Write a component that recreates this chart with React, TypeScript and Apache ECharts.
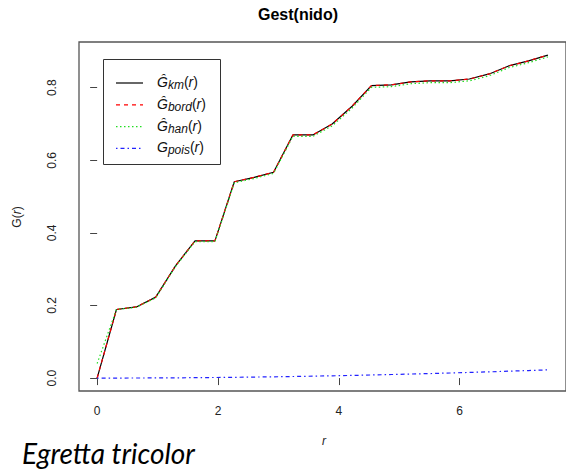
import React, { useEffect, useRef } from "react";
import * as echarts from "echarts";

// distance grid r (shared by all estimates)
const rValues = [
  0, 0.32, 0.65, 0.97, 1.3, 1.62, 1.95, 2.27, 2.6, 2.92, 3.24, 3.57,
  3.89, 4.22, 4.54, 4.87, 5.19, 5.51, 5.84, 6.16, 6.49, 6.81, 7.14, 7.46,
];

// Kaplan-Meier estimate
const gKm = [
  0, 0.189, 0.196, 0.223, 0.31, 0.378, 0.378, 0.541, 0.553, 0.567, 0.67, 0.67,
  0.7, 0.749, 0.806, 0.808, 0.816, 0.819, 0.819, 0.824, 0.838, 0.86, 0.874, 0.89,
];

// border-corrected estimate
const gBord = [
  0, 0.189, 0.196, 0.223, 0.31, 0.378, 0.378, 0.541, 0.553, 0.567, 0.67, 0.67,
  0.7, 0.749, 0.806, 0.808, 0.816, 0.819, 0.819, 0.824, 0.838, 0.86, 0.874, 0.89,
];

// Hanisch estimate
const gHan = [
  0.04, 0.189, 0.195, 0.221, 0.308, 0.376, 0.376, 0.538, 0.55, 0.564, 0.666, 0.666,
  0.695, 0.744, 0.801, 0.803, 0.811, 0.814, 0.814, 0.819, 0.833, 0.855, 0.869, 0.885,
];

// theoretical Poisson curve
const gPois = [
  0, 0.0001, 0.0002, 0.0004, 0.0007, 0.0011, 0.0016, 0.0021, 0.0028, 0.0035, 0.0043, 0.0053,
  0.0063, 0.0073, 0.0085, 0.0098, 0.0111, 0.0125, 0.014, 0.0156, 0.0172, 0.019, 0.0208, 0.0227,
];

const xTicks = [0, 2, 4, 6];
const yTicks = [0, 0.2, 0.4, 0.6, 0.8];

const seriesNames = ["km", "bord", "han", "pois"];

const FONT = "Liberation Sans";

const STYLES: Record<string, { color: string; dash: number[] | null }> = {
  km: { color: "#000000", dash: null },
  bord: { color: "#ff0000", dash: [4, 4] },
  han: { color: "#22dd22", dash: [1.5, 2.5] },
  pois: { color: "#2222ff", dash: [1.5, 3, 4, 3] },
};

const pairs = (ys: number[]) => rValues.map((r, i) => [r, ys[i]]);

export default function App() {
  const ref = useRef<HTMLDivElement>(null);

  useEffect(() => {
    if (!ref.current) return;
    const chart = echarts.init(ref.current, undefined, { renderer: "svg" });

    const labelText = (name: string) => {
      const g = name === "pois" ? "G" : "Ĝ";
      return `{g|${g}}{s|${name}}{p|(}{g|r}{p|)}`;
    };

    const rich = {
      g: {
        fontFamily: FONT,
        fontStyle: "italic",
        fontSize: 14,
        lineHeight: 16,
        verticalAlign: "top",
        fill: "#111",
      },
      s: {
        fontFamily: FONT,
        fontStyle: "italic",
        fontSize: 12,
        lineHeight: 12,
        verticalAlign: "bottom",
        fill: "#111",
      },
      p: {
        fontFamily: FONT,
        fontSize: 14,
        lineHeight: 16,
        verticalAlign: "top",
        fill: "#111",
      },
    };

    // legend box drawn by hand so that line samples keep their dash patterns
    const legendTop = 83;
    const legendStep = 21.8;
    const legendItems: any[] = [
      {
        type: "rect",
        shape: { x: 103.5, y: 59.5, width: 117, height: 105 },
        style: { fill: "#fff", stroke: "#333", lineWidth: 1 },
        z: 10,
      },
    ];
    seriesNames.forEach((name, i) => {
      const y = legendTop + i * legendStep;
      const st = STYLES[name];
      legendItems.push({
        type: "line",
        shape: { x1: 116, y1: y, x2: 143, y2: y },
        style: {
          stroke: st.color,
          lineWidth: 1.2,
          lineDash: st.dash ?? undefined,
        },
        z: 11,
      });
      legendItems.push({
        type: "text",
        x: 157,
        y,
        style: {
          text: labelText(name),
          align: "left",
          verticalAlign: "middle",
          rich,
        },
        z: 11,
      });
    });

    const lineSeries = (name: string, ys: number[], z: number) => ({
      name,
      type: "line",
      data: pairs(ys),
      symbol: "none",
      showSymbol: false,
      z,
      lineStyle: {
        color: STYLES[name].color,
        width: 1.2,
        type: STYLES[name].dash ?? "solid",
      },
    });

    chart.setOption({
      animation: false,
      backgroundColor: "#ffffff",
      grid: {
        left: 79,
        top: 42,
        width: 488,
        height: 349,
        show: true,
        borderColor: "#555",
        borderWidth: 1.3,
        backgroundColor: "transparent",
      },
      xAxis: {
        type: "value",
        min: -0.3,
        max: 7.76,
        axisLine: { show: false },
        splitLine: { show: false },
        axisTick: {
          show: true,
          length: 7,
          customValues: xTicks,
          lineStyle: { color: "#444", width: 1 },
        },
        axisLabel: {
          customValues: xTicks,
          margin: 14,
          fontSize: 12,
          fontFamily: FONT,
          color: "#222",
        },
      },
      yAxis: {
        type: "value",
        min: -0.0356,
        max: 0.926,
        axisLine: { show: false },
        splitLine: { show: false },
        axisTick: {
          show: true,
          length: 7,
          customValues: yTicks,
          lineStyle: { color: "#444", width: 1 },
        },
        axisLabel: {
          customValues: yTicks,
          rotate: 90,
          margin: 21,
          fontSize: 12,
          fontFamily: FONT,
          color: "#222",
          formatter: (v: number) => v.toFixed(1),
        },
      },
      graphic: [
        {
          type: "text",
          x: 298,
          y: 14,
          style: {
            text: "Gest(nido)",
            fontFamily: FONT,
            fontWeight: "bold",
            fontSize: 16,
            fill: "#000",
            align: "center",
            verticalAlign: "middle",
          },
        },
        {
          type: "text",
          x: 17,
          y: 217,
          rotation: Math.PI / 2,
          style: {
            text: "{a|G(}{b|r}{a|)}",
            align: "center",
            verticalAlign: "middle",
            rich: {
              a: { fontFamily: FONT, fontSize: 12, fill: "#222" },
              b: { fontFamily: FONT, fontSize: 12, fontStyle: "italic", fill: "#222" },
            },
          },
        },
        {
          type: "text",
          x: 324,
          y: 441,
          style: {
            text: "r",
            fontFamily: FONT,
            fontStyle: "italic",
            fontSize: 12,
            fill: "#222",
            align: "center",
            verticalAlign: "middle",
          },
        },
        {
          type: "text",
          x: 22,
          y: 453,
          style: {
            text: "Egretta tricolor",
            fontFamily: "Lato",
            fontStyle: "italic",
            fontSize: 28,
            fill: "#000",
            align: "left",
            verticalAlign: "middle",
          },
        },
        ...legendItems,
      ],
      series: [
        lineSeries("km", gKm, 2),
        lineSeries("bord", gBord, 3),
        lineSeries("han", gHan, 4),
        lineSeries("pois", gPois, 5),
      ],
    });

    return () => chart.dispose();
  }, []);

  return (
    <div
      ref={ref}
      style={{ position: "absolute", left: 0, top: 0, width: 566, height: 470 }}
    />
  );
}
